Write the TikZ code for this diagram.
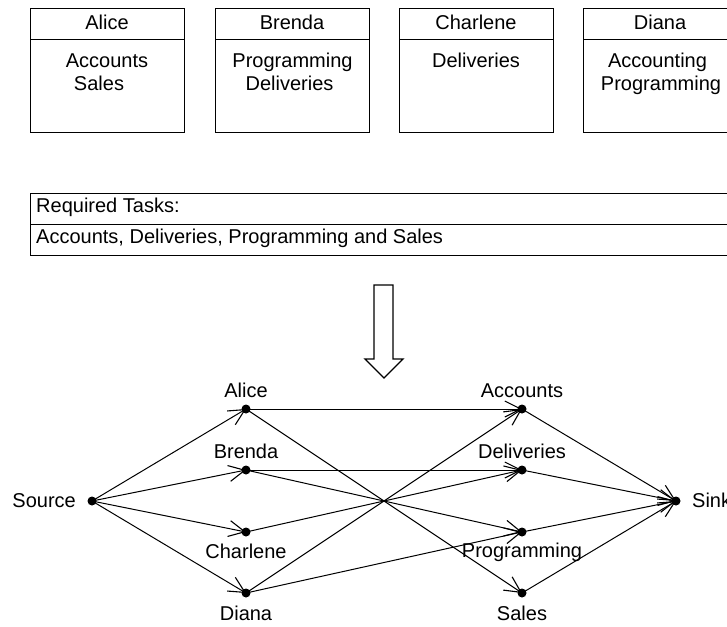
\documentclass[tikz,border=0pt]{standalone}
\usepackage{fontspec}
\setmainfont{Liberation Sans}
\usetikzlibrary{arrows.meta}
\begin{document}
\begin{tikzpicture}[x=1pt,y=-1pt,
  font=\fontsize{20}{23}\selectfont,
  lab/.style={inner sep=0pt, anchor=base},
  labw/.style={inner sep=0pt, anchor=base west},
  labe/.style={inner sep=0pt, anchor=base east},
  dot/.style={circle, fill=black, inner sep=0pt, minimum size=9pt},
  edge/.style={line width=1pt, -{Straight Barb[length=16pt,width=16pt,line width=1.1pt]}},
  frame/.style={line width=1pt, draw=black}]
\useasboundingbox (0,0) rectangle (727,626);

% worker boxes
\foreach \x in {30,215,399,583} {
  \draw[frame] (\x,9) rectangle ++(154,123);
  \draw[frame] (\x,40) -- ++(154,0);
}
\node[lab] (hAlice) at (107,30) {Alice};
\node[lab] (hBrenda) at (292,30) {Brenda};
\node[lab] (hCharlene) at (476,30) {Charlene};
\node[lab] (hDiana) at (660,30) {Diana};
\node[lab] (tA1) at (107,67) {Accounts};
\node[lab] (tA2) at (99,90) {Sales};
\node[lab] (tB1) at (292.5,67) {Programming};
\node[lab] (tB2) at (289.5,90) {Deliveries};
\node[lab] (tC1) at (476,67) {Deliveries};
\node[lab] (tD1) at (657.5,67) {Accounting};
\node[lab] (tD2) at (661,90) {Programming};

% required tasks
\draw[frame] (30,193) rectangle (745,255);
\draw[frame] (30,224) -- (745,224);
\node[labw] (req) at (36,212) {Required Tasks:};
\node[labw] (tasks) at (36,243) {Accounts, Deliveries, Programming and Sales};

% block arrow
\draw[line width=1.3pt, line join=miter, fill=white]
  (374,285) -- (393,285) -- (393,359) -- (403,359) -- (384,378)
  -- (365,359) -- (374,359) -- cycle;

% graph nodes
\node[dot] (src) at (92,501) {};
\node[dot] (alice) at (246,409) {};
\node[dot] (brenda) at (246,470) {};
\node[dot] (charlene) at (246,532) {};
\node[dot] (diana) at (246,593) {};
\node[dot] (acc) at (522,409) {};
\node[dot] (del) at (522,470) {};
\node[dot] (prog) at (522,532) {};
\node[dot] (sales) at (522,593) {};
\node[dot] (sink) at (676,501) {};

% labels
\node[labe] (lsrc) at (76,507) {Source};
\node[lab] (lalice) at (246,397) {Alice};
\node[lab] (lbrenda) at (246,458) {Brenda};
\node[lab] (lcharlene) at (246,558) {Charlene};
\node[lab] (ldiana) at (246,620) {Diana};
\node[lab] (lacc) at (522,397) {Accounts};
\node[lab] (ldel) at (522,458) {Deliveries};
\node[lab] (lprog) at (522,557) {Programming};
\node[lab] (lsales) at (522,620) {Sales};
\node[labw] (lsink) at (692,507) {Sink};

% edges
\foreach \t in {alice,brenda,charlene,diana}
  \draw[edge] (src.center) -- (\t.center);
\draw[edge] (alice.center) -- (acc.center);
\draw[edge] (alice.center) -- (sales.center);
\draw[edge] (brenda.center) -- (del.center);
\draw[edge] (brenda.center) -- (prog.center);
\draw[edge] (charlene.center) -- (del.center);
\draw[edge] (diana.center) -- (acc.center);
\draw[edge] (diana.center) -- (prog.center);
\foreach \s in {acc,del,prog,sales}
  \draw[edge] (\s.center) -- (sink.center);
\end{tikzpicture}
\end{document}
